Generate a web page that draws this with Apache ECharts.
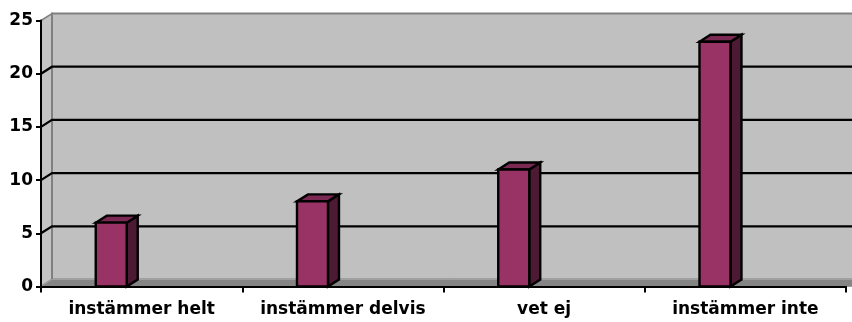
<!DOCTYPE html>
<html>
<head>
<meta charset="utf-8">
<script src="https://cdn.jsdelivr.net/npm/echarts@6/dist/echarts.min.js"></script>
<style>html,body{margin:0;padding:0;background:#fff}#c{width:852px;height:322px}</style>
</head>
<body>
<div id="c"></div>
<script>
const categories = ['instämmer helt', 'instämmer delvis', 'vet ej', 'instämmer inte'];
const values = [6, 8, 11, 23];
const gridValues = [5, 10, 15, 20];
const yMax = 25;
const yInterval = 5;

const DX = 11, DY = -7;
const FONT = '"DejaVu Sans", sans-serif';

const chart = echarts.init(document.getElementById('c'), null, {renderer: 'canvas'});

function renderWall(params, api) {
  const cs = params.coordSys;
  const x0 = cs.x, y0 = cs.y, x1 = cs.x + cs.width + 20, y1 = cs.y + cs.height;
  return {type: 'group', children: [
    {type: 'polygon', shape: {points: [[x0, y0], [x0 + DX, y0 + DY], [x0 + DX, y1 + DY], [x0, y1]]},
      style: {fill: '#c4c4c4', stroke: '#808080', lineWidth: 1.5}},
    {type: 'rect', shape: {x: x0 + DX, y: y0 + DY, width: x1 - x0, height: y1 - y0},
      style: {fill: '#c0c0c0', stroke: '#808080', lineWidth: 2}},
    {type: 'polygon', shape: {points: [[x0, y1], [x0 + DX, y1 + DY], [x1 + DX, y1 + DY], [x1, y1]]},
      style: {fill: '#858585', stroke: '#a0a0a0', lineWidth: 1}}
  ]};
}

function renderGrid(params, api) {
  const cs = params.coordSys;
  const y = api.coord([0, api.value(1)])[1];
  const x0 = cs.x;
  return {type: 'polyline', shape: {points: [[x0, y], [x0 + DX, y + DY], [cs.x + cs.width + 30, y + DY]]},
    style: {stroke: '#000', lineWidth: 2.2, fill: null}};
}

function renderBar(params, api) {
  const idx = api.value(0);
  const top = api.coord([idx, api.value(1)]);
  const base = api.coord([idx, 0]);
  const bw = api.size([1, 0])[0];
  const L = top[0] - 0.228 * bw;
  const R = L + 0.154 * bw;
  const T = top[1], B = base[1];
  const st = {stroke: '#000', lineWidth: 2.4, lineJoin: 'miter'};
  return {type: 'group', children: [
    {type: 'polygon', shape: {points: [[R, T], [R + DX, T + DY], [R + DX, B + DY], [R, B]]},
      style: Object.assign({fill: '#4d1a33'}, st)},
    {type: 'polygon', shape: {points: [[L, T], [L + DX, T + DY], [R + DX, T + DY], [R, T]]},
      style: Object.assign({fill: '#7a2952'}, st)},
    {type: 'rect', shape: {x: L, y: T, width: R - L, height: B - T},
      style: Object.assign({fill: '#993366'}, st)}
  ]};
}

chart.setOption({
  animation: false,
  backgroundColor: '#ffffff',
  grid: {left: 41, right: 6, top: 20.5, bottom: 35.5},
  xAxis: {
    type: 'category', data: categories, z: 10,
    axisLine: {lineStyle: {color: '#000', width: 2}},
    axisTick: {show: true, length: 6, lineStyle: {color: '#000', width: 2}},
    axisLabel: {color: '#000', fontFamily: FONT, fontWeight: 'bold', fontSize: 17, margin: 15, interval: 0},
    splitLine: {show: false}
  },
  yAxis: {
    type: 'value', min: 0, max: yMax, interval: yInterval, z: 10,
    axisLine: {show: true, lineStyle: {color: '#000', width: 2}},
    axisTick: {show: true, length: 5, lineStyle: {color: '#000', width: 2}},
    axisLabel: {color: '#000', fontFamily: FONT, fontWeight: 'bold', fontSize: 17, margin: 8},
    splitLine: {show: false}
  },
  series: [
    {type: 'custom', z: 1, renderItem: renderWall, data: [[0, yMax]], silent: true},
    {type: 'custom', z: 2, renderItem: renderGrid, data: gridValues.map(v => [0, v]), silent: true},
    {type: 'custom', z: 5, renderItem: renderBar, data: values.map((v, i) => [i, v])}
  ]
});
</script>
</body>
</html>
